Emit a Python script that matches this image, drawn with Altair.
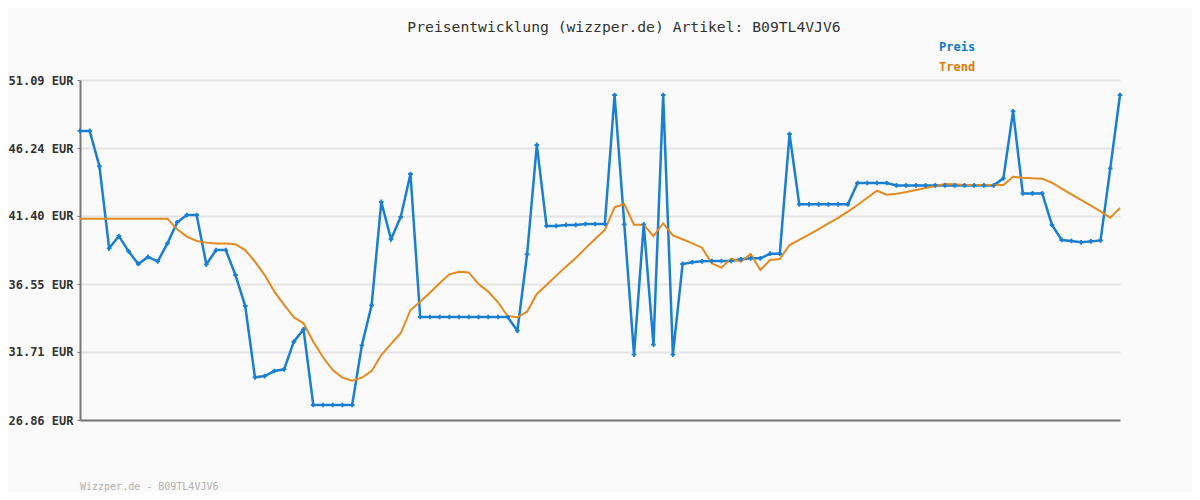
import altair as alt
import pandas as pd

# x positions (sample index, one per price record)
idx = list(range(108))

preis = [
    47.46, 47.46, 44.94, 39.09, 39.97, 38.88, 37.98, 38.48, 38.17, 39.45,
    40.95, 41.47, 41.47, 37.95, 38.97, 38.97, 37.19, 34.98, 29.90, 29.99,
    30.35, 30.47, 32.44, 33.32, 27.93, 27.93, 27.93, 27.93, 27.93, 32.18,
    35.03, 42.40, 39.74, 41.33, 44.39, 34.20, 34.20, 34.20, 34.20, 34.20,
    34.20, 34.20, 34.20, 34.20, 34.20, 33.23, 38.67, 46.46, 40.69, 40.69,
    40.76, 40.76, 40.83, 40.83, 40.83, 50.02, 40.80, 31.52, 40.80, 32.23,
    50.02, 31.52, 37.98, 38.10, 38.17, 38.19, 38.19, 38.19, 38.31, 38.38,
    38.38, 38.71, 38.71, 47.24, 42.23, 42.23, 42.23, 42.23, 42.23, 42.23,
    43.75, 43.75, 43.75, 43.75, 43.58, 43.58, 43.58, 43.58, 43.58, 43.58,
    43.58, 43.58, 43.58, 43.58, 43.58, 44.08, 48.86, 43.01, 43.01, 43.01,
    40.76, 39.69, 39.62, 39.52, 39.59, 39.66, 44.79, 50.02,
]

trend = [
    41.21, 41.21, 41.21, 41.21, 41.21, 41.21, 41.21, 41.21, 41.21, 41.21,
    40.45, 39.93, 39.62, 39.50, 39.43, 39.43, 39.38, 38.97, 38.14, 37.19,
    36.01, 35.06, 34.18, 33.75, 32.44, 31.33, 30.42, 29.88, 29.66, 29.88,
    30.35, 31.49, 32.28, 33.04, 34.70, 35.29, 35.93, 36.60, 37.24, 37.43,
    37.38, 36.55, 36.01, 35.25, 34.27, 34.18, 34.58, 35.84, 36.48, 37.15,
    37.79, 38.40, 39.09, 39.76, 40.40, 42.02, 42.25, 40.78, 40.78, 39.97,
    40.88, 40.02, 39.74, 39.45, 39.14, 38.02, 37.72, 38.36, 38.14, 38.69,
    37.55, 38.26, 38.33, 39.33, 39.69, 40.07, 40.47, 40.88, 41.26, 41.71,
    42.18, 42.70, 43.20, 42.92, 42.99, 43.11, 43.25, 43.39, 43.54, 43.68,
    43.66, 43.61, 43.61, 43.61, 43.61, 43.61, 44.20, 44.13, 44.08, 44.06,
    43.77, 43.35, 42.94, 42.54, 42.13, 41.73, 41.28, 41.97,
]

y_ticks = [26.86, 31.71, 36.55, 41.40, 46.24, 51.09]

title_text = "Preisentwicklung (wizzper.de) Artikel: B09TL4VJV6"
footer_text = "Wizzper.de - B09TL4VJV6"
legend_labels = ["Preis", "Trend"]

BLUE = "#1a7fd0"
BLUE_TXT = "#0b78c8"
ORANGE = "#e48a1e"
ORANGE_TXT = "#dd7a05"
FONT = "DejaVu Sans Mono"

df = pd.DataFrame({"i": idx, "preis": preis, "trend": trend})

xs = alt.X("i:Q", scale=alt.Scale(domain=[0, 107], nice=False, zero=False),
           axis=alt.Axis(title=None, labels=False, ticks=False, grid=False,
                         domain=True, domainColor="#777777", domainWidth=2))
ys = alt.Scale(domain=[26.86, 51.09], nice=False, zero=False)
yaxis = alt.Axis(title=None, values=y_ticks, grid=True, gridColor="#e4e4e4", gridWidth=2,
                 domain=True, domainColor="#777777", domainWidth=2,
                 ticks=True, tickSize=3, tickColor="#777777", tickWidth=1,
                 labelFont=FONT, labelFontSize=12, labelColor="#333333",
                 labelFontWeight="bold", labelPadding=4,
                 labelExpr="format(datum.value, '.2f') + ' EUR'")

base = alt.Chart(df)

blue_line = base.mark_line(color=BLUE, strokeWidth=2.5).encode(
    x=xs, y=alt.Y("preis:Q", scale=ys, axis=yaxis))
orange_line = base.mark_line(color=ORANGE, strokeWidth=2).encode(
    x=xs, y=alt.Y("trend:Q", scale=ys))
blue_pts = base.mark_point(shape="cross", filled=True, size=22, color=BLUE, opacity=1).encode(
    x=xs, y=alt.Y("preis:Q", scale=ys))

def label(text, x, y, size, color, weight="normal", align="left"):
    d = pd.DataFrame({"t": [text]})
    return alt.Chart(d).mark_text(font=FONT, fontSize=size, color=color, fontWeight=weight,
                                  align=align, baseline="middle", clip=False).encode(
        text="t:N", x=alt.value(x), y=alt.value(y))

title = label(title_text, 544, -52, 14.7, "#333333", align="center")
leg1 = label(legend_labels[0], 859, -33, 12, BLUE_TXT, weight="bold")
leg2 = label(legend_labels[1], 859, -13, 12, ORANGE_TXT, weight="bold")
footer = label(footer_text, 0, 407, 10, "#b0b0b0")

chart = alt.layer(blue_line, orange_line, blue_pts, title, leg1, leg2, footer).properties(
    width=1040, height=340,
    autosize=alt.AutoSizeParams(type="none"),
    padding={"left": 72, "top": 72, "right": 72, "bottom": 72},
    background="#fafafa",
).configure_view(stroke=None)

chart.save("out.html", embed_options={"renderer": "svg", "actions": False})
